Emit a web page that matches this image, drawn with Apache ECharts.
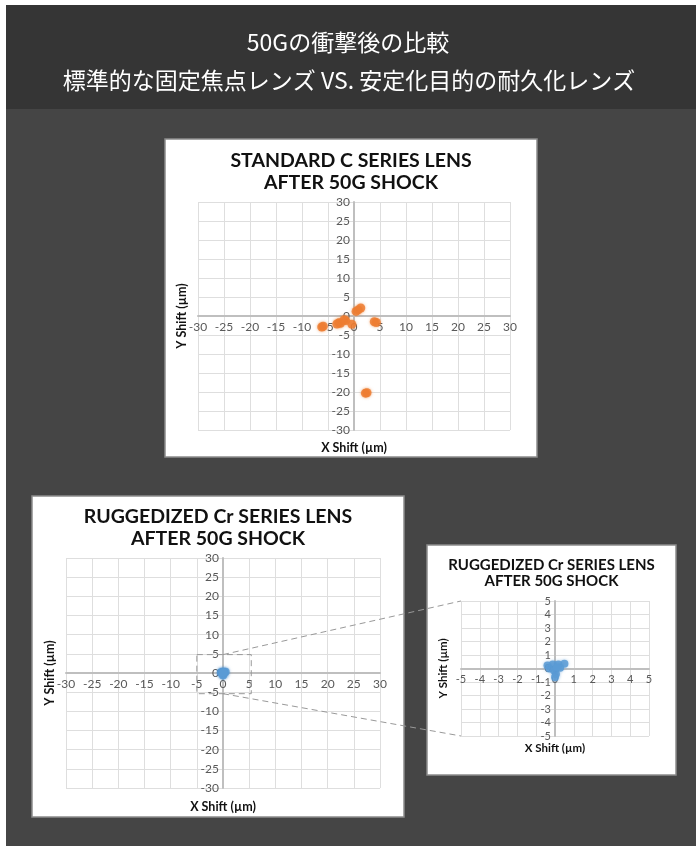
<!DOCTYPE html>
<html>
<head>
<meta charset="utf-8">
<script src="https://cdn.jsdelivr.net/npm/echarts@6/dist/echarts.min.js"></script>
<style>
  html, body { margin: 0; padding: 0; background: #fff; }
  #chart { width: 696px; height: 846px; }
</style>
</head>
<body>
<div id="chart"></div>
<script>
// texts
const headerLines = ['50Gの衝撃後の比較', '標準的な固定焦点レンズ VS. 安定化目的の耐久化レンズ']
const standardTitle = ['STANDARD C SERIES LENS', 'AFTER 50G SHOCK']
const ruggedTitle = ['RUGGEDIZED Cr SERIES LENS', 'AFTER 50G SHOCK']
const xName = 'X Shift (µm)'
const yName = 'Y Shift (µm)'

// tick labels
const wideTicks = [-30, -25, -20, -15, -10, -5, 0, 5, 10, 15, 20, 25, 30]
const zoomTicks = [-5, -4, -3, -2, -1, 0, 1, 2, 3, 4, 5]

// standard C lens, shift after shock (µm)
const standardX = [-6.2, -5.9, -3.3, -2.9, -2.6, -1.9, -1.6, -0.4, 0.4, 0.8, 1.3, 3.9, 4.3, 2.2, 2.5]
const standardY = [-2.9, -2.7, -2.1, -1.8, -1.9, -1.0, -1.2, -2.2, 1.2, 1.6, 2.1, -1.5, -1.7, -20.3, -20.2]

// ruggedized Cr lens, shift after shock (µm)
const ruggedX = [-0.4, -0.3, -0.12, 0.05, -0.05, 0.18, 0.27, 0.5, 0.0, 0.1]
const ruggedY = [0.22, 0.0, 0.3, -0.4, -0.15, 0.3, 0.05, 0.35, -0.65, 0.1]

// zoom window drawn on the wide ruggedized chart
const zoomBoxX = [-5, 5.4]
const zoomBoxY = [-5.4, 4.8]

const pairs = (xs, ys) => xs.map((x, i) => [x, ys[i]])

// panels: white box + plot grid
const panels = [
    { box: [165, 139, 372, 318], grid: [198, 202, 312, 228], ticks: wideTicks, title: standardTitle, titleY: 161, titleSize: 19.5, labelSize: 12, nameSize: 12.5, xNameY: 448, yNameX: 182 },
    { box: [32, 496, 372, 321], grid: [66, 558, 314, 230], ticks: wideTicks, title: ruggedTitle, titleY: 517, titleSize: 19.5, labelSize: 12, nameSize: 12.5, xNameY: 807, yNameX: 50 },
    { box: [427, 545, 249, 230], grid: [461, 601, 188, 135], ticks: zoomTicks, title: ruggedTitle, titleY: 565, titleSize: 15, labelSize: 11, nameSize: 11.5, xNameY: 748, yNameX: 443 }
]

// axis that crosses the other one at 0, labels next to the line (Excel style)
function valueAxis(gridIndex, ticks, fontSize, margin, offset) {
    return {
        type: 'value',
        gridIndex: gridIndex,
        min: ticks[0],
        max: ticks[ticks.length - 1],
        interval: ticks[1] - ticks[0],
        offset: offset,
        axisLine: { onZero: false, lineStyle: { color: '#bfbfbf', width: 2 } },
        axisTick: { show: false },
        axisLabel: { color: '#595959', fontSize: fontSize, fontFamily: 'Lato', margin: margin },
        splitLine: { lineStyle: { color: '#dedede', width: 1 } }
    }
}

function zeroShare(ticks) {
    return (0 - ticks[0]) / (ticks[ticks.length - 1] - ticks[0])
}

const myChart = echarts.init(document.getElementById('chart'))

myChart.setOption({
    animation: false,
    backgroundColor: '#fff',
    grid: panels.map(p => ({ left: p.grid[0], top: p.grid[1], width: p.grid[2], height: p.grid[3], containLabel: false })),
    xAxis: panels.map((p, i) => valueAxis(i, p.ticks, p.labelSize, 5, -p.grid[3] * zeroShare(p.ticks))),
    yAxis: panels.map((p, i) => valueAxis(i, p.ticks, p.labelSize, 4, -p.grid[2] * zeroShare(p.ticks))),
    series: [
        {
            type: 'scatter', xAxisIndex: 0, yAxisIndex: 0,
            data: pairs(standardX, standardY), symbolSize: 9,
            itemStyle: { color: '#ed7d31', opacity: 0.85, shadowBlur: 3, shadowColor: 'rgba(237,125,49,0.6)' }
        },
        {
            type: 'scatter', xAxisIndex: 1, yAxisIndex: 1,
            data: pairs(ruggedX, ruggedY), symbolSize: 8,
            itemStyle: { color: '#5b9bd5', opacity: 0.85, shadowBlur: 3, shadowColor: 'rgba(91,155,213,0.6)' }
        },
        {
            type: 'scatter', xAxisIndex: 2, yAxisIndex: 2,
            data: pairs(ruggedX, ruggedY), symbolSize: 8,
            itemStyle: { color: '#5b9bd5', opacity: 0.85, shadowBlur: 3, shadowColor: 'rgba(91,155,213,0.6)' }
        }
    ]
})

// background, boxes and texts
const graphics = [
    { type: 'rect', z: -20, shape: { x: 6, y: 5, width: 690, height: 841 }, style: { fill: '#454545' } },
    { type: 'rect', z: -19, shape: { x: 6, y: 5, width: 690, height: 104 }, style: { fill: '#353535' } },
    {
        type: 'text', z: 10, x: 348, y: 42,
        style: { text: headerLines[0], fill: '#fff', font: '23px "Noto Sans CJK JP"', textAlign: 'center', textVerticalAlign: 'middle' }
    },
    {
        type: 'text', z: 10, x: 349, y: 80,
        style: { text: headerLines[1], fill: '#fff', font: '23px "Noto Sans CJK JP"', textAlign: 'center', textVerticalAlign: 'middle' }
    }
]

panels.forEach(p => {
    const cx = p.box[0] + p.box[2] / 2
    const gy = p.grid[1] + p.grid[3] / 2
    graphics.push(
        { type: 'rect', z: -15, shape: { x: p.box[0], y: p.box[1], width: p.box[2], height: p.box[3] }, style: { fill: '#fff', stroke: '#8c8c8c', lineWidth: 1.5 } },
        {
            type: 'text', z: 10, x: cx, y: p.titleY,
            style: { text: p.title[0], fill: '#111', font: 'bold ' + p.titleSize + 'px Lato', textAlign: 'center', textVerticalAlign: 'middle' }
        },
        {
            type: 'text', z: 10, x: cx, y: p.titleY + p.titleSize * 1.1,
            style: { text: p.title[1], fill: '#111', font: 'bold ' + p.titleSize + 'px Lato', textAlign: 'center', textVerticalAlign: 'middle' }
        },
        {
            type: 'text', z: 10, x: p.grid[0] + p.grid[2] / 2, y: p.xNameY,
            style: { text: xName, fill: '#111', font: 'bold ' + p.nameSize + 'px Lato', textAlign: 'center', textVerticalAlign: 'middle' }
        },
        {
            type: 'text', z: 10, x: p.yNameX, y: gy, rotation: Math.PI / 2,
            style: { text: yName, fill: '#111', font: 'bold ' + p.nameSize + 'px Lato', textAlign: 'center', textVerticalAlign: 'middle' }
        }
    )
})

// zoom box on the wide ruggedized chart and the guide lines to the zoomed chart
const boxA = myChart.convertToPixel({ gridIndex: 1 }, [zoomBoxX[0], zoomBoxY[1]])
const boxB = myChart.convertToPixel({ gridIndex: 1 }, [zoomBoxX[1], zoomBoxY[0]])
const topStart = myChart.convertToPixel({ gridIndex: 1 }, [0, zoomBoxY[1]])
const botStart = myChart.convertToPixel({ gridIndex: 1 }, [0, zoomBoxY[0]])
const topEnd = myChart.convertToPixel({ gridIndex: 2 }, [zoomTicks[0], zoomTicks[zoomTicks.length - 1]])
const botEnd = myChart.convertToPixel({ gridIndex: 2 }, [zoomTicks[0], zoomTicks[0]])
const dash = { stroke: '#999', lineWidth: 1, lineDash: [6, 4], fill: null }
graphics.push(
    { type: 'rect', z: 20, shape: { x: boxA[0], y: boxA[1], width: boxB[0] - boxA[0], height: boxB[1] - boxA[1] }, style: dash },
    { type: 'line', z: 20, shape: { x1: topStart[0], y1: topStart[1], x2: topEnd[0], y2: topEnd[1] }, style: dash },
    { type: 'line', z: 20, shape: { x1: botStart[0], y1: botStart[1], x2: botEnd[0], y2: botEnd[1] }, style: dash }
)

myChart.setOption({ graphic: graphics })

window.addEventListener('resize', () => {
    myChart.resize()
})
</script>
</body>
</html>
